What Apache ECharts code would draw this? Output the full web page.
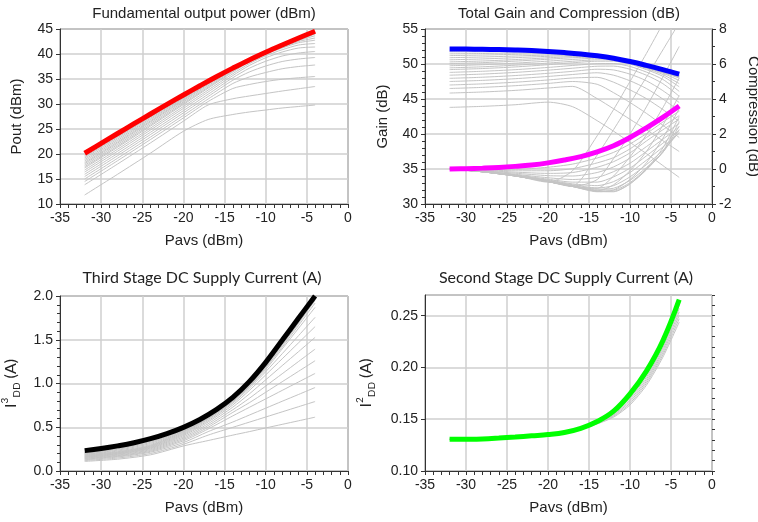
<!DOCTYPE html>
<html><head><meta charset="utf-8">
<script src="https://cdn.jsdelivr.net/npm/echarts@6.0.0/dist/echarts.min.js"></script>
<style>html,body{margin:0;padding:0;background:#fff}#chart{width:758px;height:522px}</style>
</head><body><div id="chart"></div>
<script>
// ---------- data ----------
const pavs = [-32, -28, -24, -20, -17, -14, -12, -10, -8, -6, -4];
const pavsFine = [-32, -30, -28, -26, -24, -22, -20, -18, -16, -14, -12, -10, -8, -6, -4];
const pavsAxis = [-35, 0, 5];

// Panel 1: fundamental output power (dBm)
const poutAxis = [10, 45, 5];
const poutMain = [20.15, 22.13, 24.1, 26.06, 28.0, 29.92, 31.8, 33.64, 35.44, 37.17, 38.82, 40.35, 41.8, 43.2, 44.55];
const poutGray = [
  [11.8, 15.95, 20.18, 24.55, 26.9, 27.9, 28.4, 28.8, 29.2, 29.5, 29.8],
  [13.85, 18.0, 22.23, 26.57, 29.8, 31.05, 31.6, 32.1, 32.6, 33.05, 33.5],
  [14.5, 18.66, 22.9, 27.22, 30.5, 33.1, 33.9, 34.5, 34.95, 35.25, 35.5],
  [15.0, 19.16, 23.4, 27.72, 31.0, 34.1, 35.4, 36.3, 37.05, 37.5, 37.8],
  [15.5, 19.66, 23.9, 28.22, 31.5, 34.75, 36.4, 37.6, 38.5, 39.0, 39.3],
  [15.95, 20.11, 24.35, 28.67, 31.95, 35.25, 37.15, 38.55, 39.6, 40.2, 40.5],
  [16.4, 20.56, 24.8, 29.12, 32.4, 35.68, 37.7, 39.25, 40.4, 41.2, 41.4],
  [16.8, 20.96, 25.19, 29.51, 32.79, 36.05, 38.07, 39.65, 40.85, 41.8, 42.1],
  [17.2, 21.35, 25.58, 29.9, 33.17, 36.4, 38.4, 39.98, 41.2, 42.25, 42.75],
  [17.45, 21.6, 25.83, 30.13, 33.39, 36.6, 38.55, 40.1, 41.37, 42.5, 43.2],
  [17.75, 21.9, 26.12, 30.41, 33.65, 36.83, 38.7, 40.2, 41.5, 42.7, 43.65],
  [18.05, 22.19, 26.41, 30.68, 33.9, 37.0, 38.77, 40.25, 41.55, 42.8, 44.0],
  [18.3, 22.43, 26.63, 30.88, 34.05, 37.05, 38.75, 40.25, 41.55, 42.83, 44.1],
  [18.6, 22.72, 26.9, 31.1, 34.2, 37.08, 38.75, 40.27, 41.6, 42.9, 44.2],
  [18.9, 23.0, 27.14, 31.28, 34.3, 37.1, 38.78, 40.28, 41.62, 42.95, 44.3],
  [19.2, 23.28, 27.38, 31.45, 34.4, 37.1, 38.78, 40.28, 41.6, 42.96, 44.35],
  [19.45, 23.5, 27.55, 31.55, 34.43, 37.1, 38.8, 40.3, 41.65, 43.02, 44.4],
  [19.75, 23.75, 27.77, 31.65, 34.47, 37.12, 38.8, 40.32, 41.73, 43.07, 44.45]
];

// Panel 2: total gain (dB, left) and compression (dB, right)
const gainAxis = [30, 55, 5];
const compAxis = [-2, 8, 2];
const gainMain = [52.15, 52.13, 52.1, 52.06, 52.0, 51.92, 51.8, 51.64, 51.44, 51.17, 50.82, 50.35, 49.8, 49.2, 48.55];
const gainGray = [
  [43.8, 43.95, 44.18, 44.55, 43.9, 41.9, 40.4, 38.8, 37.2, 35.5, 33.8],
  [45.85, 46.0, 46.23, 46.57, 46.8, 45.05, 43.6, 42.1, 40.6, 39.05, 37.5],
  [46.5, 46.66, 46.9, 47.22, 47.5, 47.1, 45.9, 44.5, 42.95, 41.25, 39.5],
  [47.0, 47.16, 47.4, 47.72, 48.0, 48.1, 47.4, 46.3, 45.05, 43.5, 41.8],
  [47.5, 47.66, 47.9, 48.22, 48.5, 48.75, 48.4, 47.6, 46.5, 45.0, 43.3],
  [47.95, 48.11, 48.35, 48.67, 48.95, 49.25, 49.15, 48.55, 47.6, 46.2, 44.5],
  [48.4, 48.56, 48.8, 49.12, 49.4, 49.68, 49.7, 49.25, 48.4, 47.2, 45.4],
  [48.8, 48.96, 49.19, 49.51, 49.79, 50.05, 50.07, 49.65, 48.85, 47.8, 46.1],
  [49.2, 49.35, 49.58, 49.9, 50.17, 50.4, 50.4, 49.98, 49.2, 48.25, 46.75],
  [49.45, 49.6, 49.83, 50.13, 50.39, 50.6, 50.55, 50.1, 49.37, 48.5, 47.2],
  [49.75, 49.9, 50.12, 50.41, 50.65, 50.83, 50.7, 50.2, 49.5, 48.7, 47.65],
  [50.05, 50.19, 50.41, 50.68, 50.9, 51.0, 50.77, 50.25, 49.55, 48.8, 48.0],
  [50.3, 50.43, 50.63, 50.88, 51.05, 51.05, 50.75, 50.25, 49.55, 48.83, 48.1],
  [50.6, 50.72, 50.9, 51.1, 51.2, 51.08, 50.75, 50.27, 49.6, 48.9, 48.2],
  [50.9, 51.0, 51.14, 51.28, 51.3, 51.1, 50.78, 50.28, 49.62, 48.95, 48.3],
  [51.2, 51.28, 51.38, 51.45, 51.4, 51.1, 50.78, 50.28, 49.6, 48.96, 48.35],
  [51.45, 51.5, 51.55, 51.55, 51.43, 51.1, 50.8, 50.3, 49.65, 49.02, 48.4],
  [51.75, 51.75, 51.77, 51.65, 51.47, 51.12, 50.8, 50.32, 49.73, 49.07, 48.45]
];
const compMain = [0, 0.02, 0.05, 0.09, 0.15, 0.23, 0.35, 0.51, 0.71, 0.98, 1.33, 1.8, 2.35, 2.95, 3.6];
const compGray = [
  [0, -0.15, -0.38, -0.75, -0.1, 1.9, 3.4, 5.0, 6.6, 8.3, 10.0],
  [0, -0.15, -0.38, -0.72, -0.95, 0.8, 2.25, 3.75, 5.25, 6.8, 8.35],
  [0, -0.16, -0.4, -0.72, -1.0, -0.6, 0.6, 2.0, 3.55, 5.25, 7.0],
  [0, -0.16, -0.4, -0.72, -1.0, -1.1, -0.4, 0.7, 1.95, 3.5, 5.2],
  [0, -0.16, -0.4, -0.72, -1.0, -1.25, -0.9, -0.1, 1.0, 2.5, 4.2],
  [0, -0.16, -0.4, -0.72, -1.0, -1.3, -1.2, -0.6, 0.35, 1.75, 3.45],
  [0, -0.16, -0.4, -0.72, -1.0, -1.28, -1.3, -0.85, 0.0, 1.2, 3.0],
  [0, -0.16, -0.39, -0.71, -0.99, -1.25, -1.27, -0.85, -0.05, 1.0, 2.7],
  [0, -0.15, -0.38, -0.7, -0.97, -1.2, -1.2, -0.78, 0.0, 0.95, 2.45],
  [0, -0.15, -0.38, -0.68, -0.94, -1.15, -1.1, -0.65, 0.08, 0.95, 2.25],
  [0, -0.15, -0.37, -0.66, -0.9, -1.08, -0.95, -0.45, 0.25, 1.05, 2.1],
  [0, -0.14, -0.36, -0.63, -0.85, -0.95, -0.72, -0.2, 0.5, 1.25, 2.05],
  [0, -0.13, -0.33, -0.58, -0.75, -0.75, -0.45, 0.05, 0.75, 1.47, 2.2],
  [0, -0.12, -0.3, -0.5, -0.6, -0.48, -0.15, 0.33, 1.0, 1.7, 2.4],
  [0, -0.1, -0.24, -0.38, -0.4, -0.2, 0.12, 0.62, 1.28, 1.95, 2.6],
  [0, -0.08, -0.18, -0.25, -0.2, 0.1, 0.42, 0.92, 1.6, 2.24, 2.85],
  [0, -0.05, -0.1, -0.1, 0.02, 0.35, 0.65, 1.15, 1.8, 2.43, 3.05],
  [0, 0, -0.02, 0.1, 0.28, 0.63, 0.95, 1.43, 2.02, 2.68, 3.3]
];

// Panel 3: third stage DC supply current (A)
const i3Axis = [0, 2, 0.5];
const i3Main = [0.233, 0.257, 0.287, 0.323, 0.369, 0.427, 0.499, 0.589, 0.701, 0.841, 1.021, 1.242, 1.494, 1.748, 2.0];
const i3Gray = [
  [0.11, 0.135, 0.185, 0.286, 0.348, 0.41, 0.45, 0.492, 0.533, 0.574, 0.615],
  [0.12, 0.148, 0.2, 0.305, 0.41, 0.499, 0.558, 0.617, 0.676, 0.735, 0.794],
  [0.128, 0.16, 0.215, 0.325, 0.45, 0.56, 0.639, 0.718, 0.797, 0.875, 0.954],
  [0.135, 0.168, 0.225, 0.345, 0.48, 0.63, 0.727, 0.824, 0.921, 1.018, 1.115],
  [0.142, 0.175, 0.235, 0.36, 0.5, 0.67, 0.78, 0.9, 1.02, 1.14, 1.26],
  [0.148, 0.182, 0.245, 0.375, 0.52, 0.7, 0.83, 0.971, 1.111, 1.252, 1.393],
  [0.155, 0.19, 0.255, 0.39, 0.54, 0.73, 0.88, 1.042, 1.204, 1.365, 1.527],
  [0.16, 0.196, 0.263, 0.405, 0.56, 0.755, 0.92, 1.098, 1.282, 1.466, 1.65],
  [0.166, 0.202, 0.27, 0.418, 0.575, 0.775, 0.945, 1.135, 1.34, 1.548, 1.756],
  [0.172, 0.208, 0.278, 0.43, 0.59, 0.79, 0.962, 1.16, 1.395, 1.632, 1.87],
  [0.178, 0.214, 0.285, 0.442, 0.6, 0.8, 0.972, 1.18, 1.415, 1.665, 1.92],
  [0.184, 0.22, 0.292, 0.452, 0.606, 0.805, 0.98, 1.193, 1.435, 1.69, 1.95],
  [0.19, 0.228, 0.302, 0.461, 0.612, 0.81, 0.986, 1.202, 1.45, 1.7, 1.965],
  [0.196, 0.238, 0.315, 0.469, 0.617, 0.814, 0.991, 1.21, 1.46, 1.711, 1.975],
  [0.202, 0.248, 0.327, 0.476, 0.621, 0.818, 0.996, 1.217, 1.467, 1.72, 1.982],
  [0.207, 0.256, 0.338, 0.481, 0.625, 0.822, 1.0, 1.222, 1.474, 1.728, 1.988],
  [0.212, 0.264, 0.347, 0.486, 0.629, 0.826, 1.005, 1.227, 1.48, 1.735, 1.993],
  [0.217, 0.272, 0.356, 0.49, 0.632, 0.83, 1.01, 1.232, 1.485, 1.74, 1.997]
];

// Panel 4: second stage DC supply current (A)
const i2Axis = [0.10, 0.27, 0.05];
const i2Main = [0.1306, 0.1307, 0.131, 0.1318, 0.1328, 0.134, 0.1352, 0.1372, 0.1412, 0.1478, 0.1578, 0.1745, 0.1965, 0.2257, 0.2655];
const i2Gray = [
  [0.1306, 0.131, 0.1328, 0.1352, 0.1379, 0.1455, 0.152, 0.1638, 0.1828, 0.2098, 0.2438],
  [0.1306, 0.131, 0.1328, 0.1352, 0.138, 0.1459, 0.1529, 0.1654, 0.1848, 0.212, 0.2471],
  [0.1306, 0.131, 0.1328, 0.1352, 0.1381, 0.1462, 0.1538, 0.1671, 0.1867, 0.2143, 0.2504],
  [0.1306, 0.131, 0.1328, 0.1352, 0.1383, 0.1466, 0.1547, 0.1688, 0.1886, 0.2165, 0.2537],
  [0.1306, 0.131, 0.1328, 0.1352, 0.1384, 0.147, 0.1556, 0.1704, 0.1906, 0.2188, 0.257],
  [0.1306, 0.131, 0.1328, 0.1352, 0.1385, 0.1474, 0.1565, 0.172, 0.1925, 0.221, 0.2603],
  [0.1306, 0.131, 0.1328, 0.1352, 0.1386, 0.1477, 0.1573, 0.1735, 0.1942, 0.223, 0.2632]
];

const titles = [
  'Fundamental output power (dBm)',
  'Total Gain and Compression (dB)',
  'Third Stage DC Supply Current (A)',
  'Second Stage DC Supply Current (A)'
];

// ---------- chart ----------
const ARIAL = '"Liberation Sans", Arial, sans-serif';
const CAL = 'Lato, "Open Sans", sans-serif';
const AX = '#333';
const GRIDC = '#cfcfcf';

function pts(ys) { return pavs.map((x, i) => [x, ys[i]]); }
function ptsFine(ys) { return pavsFine.map((x, i) => [x, ys[i]]); }

function xAx(g) {
  return {
    type: 'value', gridIndex: g, min: pavsAxis[0], max: pavsAxis[1], interval: pavsAxis[2],
    name: 'Pavs (dBm)', nameLocation: 'middle', nameGap: 29,
    nameTextStyle: { fontFamily: ARIAL, fontSize: 15, color: '#222' },
    axisLine: { show: true, onZero: false, lineStyle: { color: AX, width: 1 } },
    axisTick: { show: true, inside: false, length: 4, lineStyle: { color: AX } },
    minorTick: { show: true, splitNumber: 5, length: 4, lineStyle: { color: AX } },
    splitLine: { show: true, lineStyle: { color: GRIDC, width: 1.5 } },
    minorSplitLine: { show: false },
    axisLabel: { fontFamily: ARIAL, fontSize: 14, color: '#222', margin: 7, hideOverlap: false }
  };
}
function yAx(g, rng, extra) {
  const o = {
    type: 'value', gridIndex: g, min: rng[0], max: rng[1], interval: rng[2],
    nameLocation: 'middle',
    nameTextStyle: { fontFamily: ARIAL, fontSize: 15, color: '#222' },
    axisLine: { show: true, onZero: false, lineStyle: { color: AX, width: 1 } },
    axisTick: { show: true, inside: false, length: 4, lineStyle: { color: AX } },
    splitLine: { show: true, lineStyle: { color: GRIDC, width: 1.5 } },
    axisLabel: { fontFamily: ARIAL, fontSize: 14, color: '#222', margin: 7, hideOverlap: false }
  };
  return Object.assign(o, extra);
}

const grayStyle = { color: '#c4c4c4', width: 1 };
function grays(arrs, xi, yi) {
  return arrs.map(a => ({
    type: 'line', xAxisIndex: xi, yAxisIndex: yi, data: pts(a), symbol: 'none',
    smooth: 0.25, lineStyle: grayStyle, silent: true, z: 2, clip: true
  }));
}
function mainLine(arr, xi, yi, color) {
  return {
    type: 'line', xAxisIndex: xi, yAxisIndex: yi, data: ptsFine(arr), symbol: 'none',
    smooth: 0.4, lineStyle: { color: color, width: 5, cap: 'butt' }, silent: true, z: 5, clip: true
  };
}

const gridBase = { show: true, borderColor: '#444', borderWidth: 1, backgroundColor: 'transparent', containLabel: false, outerBoundsMode: 'none' };
const grids = [
  Object.assign({ left: 60, top: 29, width: 288, height: 175 }, gridBase),
  Object.assign({ left: 425, top: 29, width: 287, height: 175 }, gridBase),
  Object.assign({ left: 60, top: 296, width: 288, height: 175 }, gridBase),
  Object.assign({ left: 425, top: 295, width: 287, height: 176 }, gridBase)
];

const richName = {
  i: { fontFamily: CAL, fontSize: 16, color: '#222', lineHeight: 22 },
  sup: { fontFamily: CAL, fontSize: 10, color: '#222', verticalAlign: 'top', lineHeight: 22 },
  sub: { fontFamily: CAL, fontSize: 10, color: '#222', verticalAlign: 'bottom', lineHeight: 22 }
};

const option = {
  animation: false,
  backgroundColor: '#ffffff',
  grid: grids,
  xAxis: [xAx(0), xAx(1), xAx(2), xAx(3)],
  yAxis: [
    yAx(0, poutAxis, { name: 'Pout (dBm)', nameGap: 36, minorTick: { show: false } }),
    yAx(1, gainAxis, { name: 'Gain (dB)', nameGap: 35,
      minorTick: { show: true, splitNumber: 5, length: 3, lineStyle: { color: AX } } }),
    yAx(1, compAxis, { position: 'right', name: 'Compression (dB)', nameGap: 34, nameRotate: -90,
      splitLine: { show: false },
      minorTick: { show: true, splitNumber: 2, length: 3, lineStyle: { color: AX } } }),
    yAx(2, i3Axis, {
      name: '{i|I}{sup|3}{sub|DD}{i| (A)}', nameGap: 38,
      nameTextStyle: { fontFamily: CAL, fontSize: 16, color: '#222', rich: richName },
      minorTick: { show: true, splitNumber: 5, length: 3, lineStyle: { color: AX } },
      axisLabel: { fontFamily: ARIAL, fontSize: 14, color: '#222', margin: 7, formatter: v => v.toFixed(1) } }),
    yAx(3, i2Axis, {
      name: '{i|I}{sup|2}{sub|DD}{i| (A)}', nameGap: 48,
      nameTextStyle: { fontFamily: CAL, fontSize: 16, color: '#222', rich: richName },
      minorTick: { show: false },
      axisLabel: { fontFamily: ARIAL, fontSize: 14, color: '#222', margin: 7, showMaxLabel: false,
        formatter: v => v.toFixed(2) } }),
    // minor ticks for panel 4 (every 0.01)
    yAx(3, [i2Axis[0], i2Axis[1], 0.01], {
      axisLabel: { show: false }, splitLine: { show: false }, axisLine: { show: false },
      axisTick: { show: true, inside: false, length: 3, lineStyle: { color: AX } } })
  ],
  graphic: [
    { type: 'text', x: 204, y: 14, style: { text: titles[0], font: '15px ' + ARIAL, fill: '#222', textAlign: 'center', textVerticalAlign: 'middle', align: 'center', verticalAlign: 'middle' } },
    { type: 'text', x: 569, y: 14, style: { text: titles[1], font: '15px ' + ARIAL, fill: '#222', textAlign: 'center', textVerticalAlign: 'middle', align: 'center', verticalAlign: 'middle' } },
    { type: 'text', x: 202, y: 278, style: { text: titles[2], font: '16px ' + CAL, fill: '#222', textAlign: 'center', textVerticalAlign: 'middle', align: 'center', verticalAlign: 'middle' } },
    { type: 'text', x: 566, y: 278, style: { text: titles[3], font: '16px ' + CAL, fill: '#222', textAlign: 'center', textVerticalAlign: 'middle', align: 'center', verticalAlign: 'middle' } }
  ],
  series: [].concat(
    grays(poutGray, 0, 0),
    [mainLine(poutMain, 0, 0, '#ff0000')],
    grays(gainGray, 1, 1),
    grays(compGray, 1, 2),
    [mainLine(gainMain, 1, 1, '#0000ff'), mainLine(compMain, 1, 2, '#ff00ff')],
    grays(i3Gray, 2, 3),
    [mainLine(i3Main, 2, 3, '#000000')],
    grays(i2Gray, 3, 4),
    [mainLine(i2Main, 3, 4, '#00ff00')]
  )
};

const chart = echarts.init(document.getElementById('chart'), null, { renderer: 'canvas' });
chart.setOption(option);
</script>
</body></html>
